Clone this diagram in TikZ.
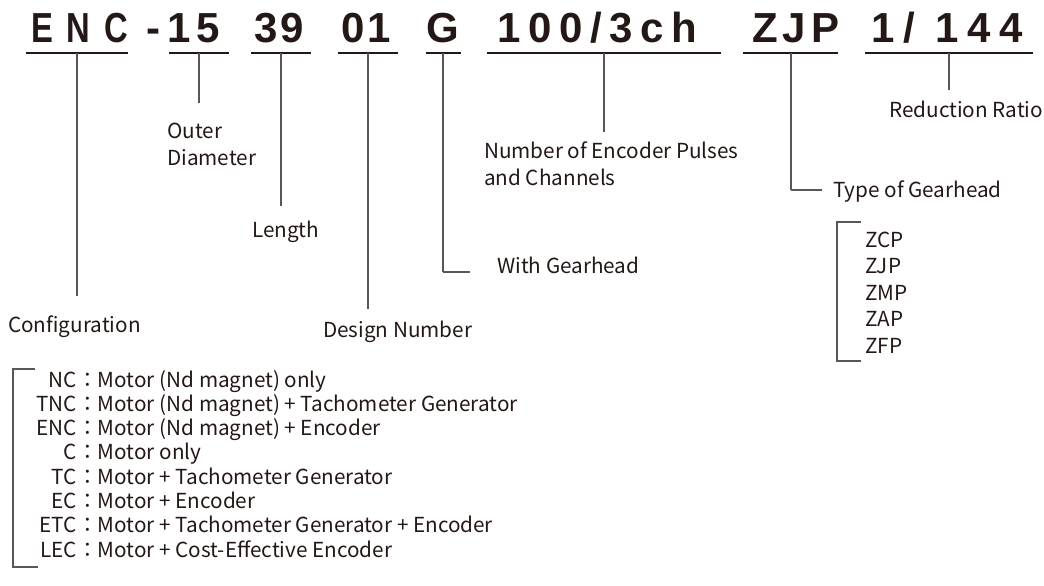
\documentclass[tikz,border=0pt]{standalone}
\usepackage{fontspec}
\usepackage{graphicx}
\usepackage{xcolor}
\setmainfont{Noto Sans CJK JP}
\newfontfamily\codefont{Liberation Sans}
\definecolor{ink}{HTML}{231815}
\definecolor{leadgray}{HTML}{5A5656}
\newcommand\track[2]{{\addfontfeature{LetterSpace=#1}#2}}

\tikzset{
  code/.style={font=\codefont\bfseries\fontsize{42}{42}\selectfont,
               anchor=base west, inner sep=0pt, text=ink},
  lbl/.style={font=\fontsize{20.7}{27}\selectfont,
              anchor=base west, inner sep=0pt, text=ink},
  key/.style={font=\fontsize{20.7}{24}\selectfont, inner sep=0pt, text=ink},
  uline/.style={draw=ink, line width=2.6pt},
  lead/.style={draw=leadgray, line width=1.3pt}
}

\begin{document}
\begin{tikzpicture}[x=1pt, y=-1pt]
  \useasboundingbox (0,0) rectangle (1044,586);

  % model code
  \node[code] (enc) at (31,43) {\scalebox{0.78}[1]{\track{42}{ENC}}};
  \node[code] (dash) at (146,43) {-};
  \node[code] (dia) at (167.5,43) {\track{12}{15}};
  \node[code] (len) at (254,43) {\track{8}{39}};
  \node[code] (des) at (341,43) {\track{8}{01}};
  \node[code] (gh) at (426,43) {G};
  \node[code] (pul) at (497.5,43) {\track{18}{100/3ch}};
  \node[code] (typ) at (752,43) {\track{12}{ZJP}};
  \node[code] (rat) at (871,43) {\track{21}{1/ 144}};

  % underlines and leaders
  \foreach \n/\xl/\xr/\xm/\yb in {conf/26/128/77/296, od/169/229/199/103,
      ln/251/311/281/206, dn/338/398/368/309, wg/426/461/443/272,
      np/487/721/604/132, tg/743/838/791/190, rr/865/1033/949/90}
  {
    \draw[uline] (\xl,53) -- (\xr,53);
    \coordinate (top-\n) at (\xm,53);
    \coordinate (end-\n) at (\xm,\yb);
    \draw[lead] (top-\n) -- (end-\n);
  }
  \coordinate (elbow-wg) at (470,272);
  \coordinate (elbow-tg) at (822,190);
  \draw[lead] (end-wg) -- (elbow-wg);
  \draw[lead] (end-tg) -- (elbow-tg);

  % labels
  \node[lbl] (conf) at (8,332) {Configuration};
  \node[lbl] (outer) at (167,138) {Outer};
  \node[lbl] (diam) at (167,165) {Diameter};
  \node[lbl] (length) at (252,237) {Length};
  \node[lbl] (design) at (323,337) {Design Number};
  \node[lbl] (withg) at (497,273) {With Gearhead};
  \node[lbl] (pulses) at (484,158) {Number of Encoder Pulses};
  \node[lbl] (chan) at (484,185) {and Channels};
  \node[lbl] (gtype) at (833,197) {Type of Gearhead};
  \node[lbl] (ratio) at (889,117) {Reduction Ratio};

  % gearhead types
  \foreach \g [count=\i from 0] in {ZCP,ZJP,ZMP,ZAP,ZFP}
    \node[lbl] (gear\i) at (865,{247+26.5*\i}) {\g};
  \draw[lead] (861,222) -- (837,222) -- (837,361) -- (861,361);

  % configurations
  \foreach \c/\d [count=\i from 0] in {NC/Motor (Nd magnet) only,
      TNC/Motor (Nd magnet) + Tachometer Generator,
      ENC/Motor (Nd magnet) + Encoder,
      C/Motor only,
      TC/Motor + Tachometer Generator,
      EC/Motor + Encoder,
      ETC/Motor + Tachometer Generator + Encoder,
      LEC/Motor + Cost-Effective Encoder}
  {
    \node[key, anchor=base east] (k\i) at (77,{387+24.3*\i}) {\c};
    \node[key, anchor=base west] (d\i) at (k\i.base east) {：\d};
  }
  \draw[lead] (35,369) -- (13,369) -- (13,567) -- (38,567);
\end{tikzpicture}
\end{document}
